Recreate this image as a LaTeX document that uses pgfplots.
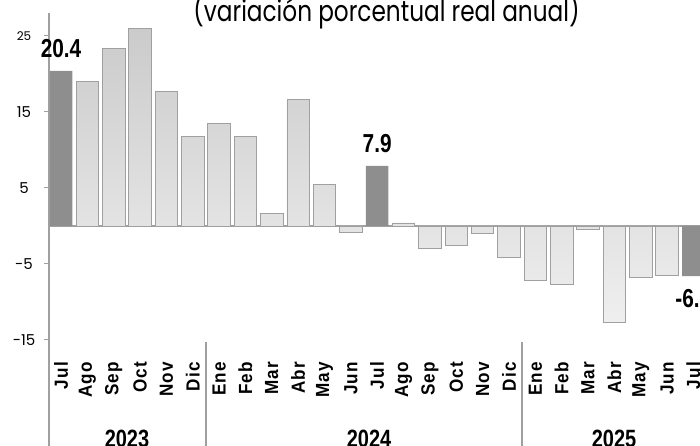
\documentclass[border=0pt]{standalone}
\usepackage{fontspec}
\setmainfont{Poppins}
\newfontfamily\titlefont[FakeStretch=0.8]{Poppins}
\newfontfamily\condfont[FakeStretch=0.8]{Liberation Sans}
\newfontfamily\monthfont[FakeStretch=0.9, LetterSpace=6]{Liberation Sans}
\usepackage{pgfplots}
\pgfplotsset{compat=1.18}
\definecolor{darkbar}{HTML}{8E8E8E}
\definecolor{bartop}{HTML}{CBCBCB}
\definecolor{barbot}{HTML}{EFEFEF}
\definecolor{barline}{HTML}{A0A0A0}
\definecolor{axline}{HTML}{A0A0A0}
\begin{document}
\begin{tikzpicture}
\useasboundingbox (0,0) rectangle (700pt,446pt);
\begin{axis}[
 at={(61pt,220pt)}, anchor=origin,
 x=26.35pt, y=7.6pt,
 xmin=-0.455, xmax=25, ymin=-30, ymax=28,
 axis y line*=left, axis x line*=bottom,
 x axis line style={draw=none},
 y axis line style={draw=axline, line width=1.5pt},
 ybar, bar width=22.5pt, bar shift=0pt,
 xtick={0,...,24},
 xticklabels={Jul,Ago,Sep,Oct,Nov,Dic,Ene,Feb,Mar,Abr,May,Jun,Jul,Ago,Sep,Oct,Nov,Dic,Ene,Feb,Mar,Abr,May,Jun,Jul},
 xtick style={draw=none},
 xticklabel style={rotate=90, anchor=east, inner sep=0pt, font=\monthfont\bfseries\fontsize{19}{19}\selectfont},
 xticklabel shift=-97pt,
 ytick={-15,-5,5,15,25},
 yticklabels={-15,-5,5,15,{\fontsize{12}{12}\selectfont 25}},
 ytick style={draw=axline, line width=1pt},
 tick align=outside, major tick length=5pt,
 yticklabel style={anchor=center, xshift=-20pt, font=\fontsize{15}{15}\selectfont},
 clip=false,
]
\draw[axline, line width=1.2pt] (axis cs:-0.455,0) -- (axis cs:25,0);
\addplot[draw=barline, line width=0.8pt, top color=bartop, bottom color=barbot] coordinates {
(1,19.0) (2,23.4) (3,26.0) (4,17.7) (5,11.8) (6,13.5) (7,11.8) (8,1.6) (9,16.6) (10,5.5) (11,-0.8)
(13,0.4) (14,-3.0) (15,-2.6) (16,-1.0) (17,-4.1) (18,-7.2) (19,-7.7) (20,-0.4) (21,-12.7) (22,-6.8) (23,-6.5)};
\addplot[fill=darkbar, draw=none, nodes near coords, nodes near coords align=vertical,
 /pgf/number format/assume math mode=true,
 every node near coord/.append style={font=\condfont\bfseries\fontsize{26}{26}\selectfont, inner sep=13pt, text=black}]
 coordinates {(0,20.4) (12,7.9) (24,-6.6)};
\end{axis}
\node[anchor=base, font=\titlefont\fontsize{29}{29}\selectfont] at (386.5pt,424pt) {(variación porcentual real anual)};
\node[anchor=base, font=\condfont\bfseries\fontsize{25}{25}\selectfont] at (127pt,-2pt) {2023};
\node[anchor=base, font=\condfont\bfseries\fontsize{25}{25}\selectfont] at (369pt,-2pt) {2024};
\node[anchor=base, font=\condfont\bfseries\fontsize{25}{25}\selectfont] at (614pt,-2pt) {2025};
\draw[axline, line width=1.2pt] (205.9pt,104pt) -- (205.9pt,0pt);
\draw[axline, line width=1.2pt] (522pt,104pt) -- (522pt,0pt);
\end{tikzpicture}
\end{document}
